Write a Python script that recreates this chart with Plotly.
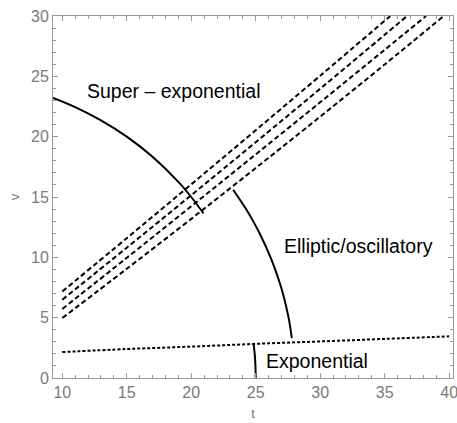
import plotly.graph_objects as go

# ---- data ----
# four dashed boundaries
dash1_t = [10, 15, 20, 25, 30, 35.44]
dash1_v = [7.17, 11.59, 16.05, 20.53, 25.05, 30.0]
dash2_t = [10, 15, 20, 25, 30, 35, 36.74]
dash2_v = [6.49, 10.80, 15.15, 19.54, 23.97, 28.44, 30.0]
dash3_t = [10, 15, 20, 25, 30, 35, 38.21]
dash3_v = [5.72, 9.96, 14.23, 18.53, 22.85, 27.20, 30.0]
dash4_t = [10, 15, 20, 25, 30, 35, 39.58]
dash4_v = [4.97, 9.05, 13.19, 17.40, 21.66, 25.98, 30.0]

# dotted boundary (exponential)
dot_t = [10, 15, 20, 25, 30, 35, 40]
dot_v = [2.15, 2.40, 2.60, 2.83, 3.03, 3.24, 3.45]

# solid boundaries
arc1_t = [9.28, 11, 13, 15, 17, 19, 20, 20.95]
arc1_v = [23.21, 22.45, 21.35, 20.0, 18.33, 16.25, 15.0, 13.64]
arc2_t = [23.25, 24.25, 24.8, 25.3, 26.15, 26.83, 27.11, 27.55, 27.8]
arc2_v = [15.6, 14.0, 13.0, 12.0, 10.0, 8.0, 7.0, 5.0, 3.3]
arc3_t = [24.83, 24.93, 24.98, 25.0]
arc3_v = [2.9, 1.9, 1.0, 0.0]

labels = ["Super \u2013 exponential", "Elliptic/oscillatory", "Exponential"]
label_t = [18.66, 33.0, 29.79]
label_v = [23.75, 10.98, 1.45]

x_range = [9.28, 40.3]
y_range = [0, 30]

FONT = "Liberation Sans, Arial, sans-serif"
GRAY = "#999999"
LABEL_GRAY = "#7a7a7a"

fig = go.Figure()

for tt, vv in [(dash1_t, dash1_v), (dash2_t, dash2_v), (dash3_t, dash3_v), (dash4_t, dash4_v)]:
    fig.add_trace(go.Scatter(x=tt, y=vv, mode="lines", line_shape="spline",
                             line=dict(color="black", width=2, dash="5px,3px"),
                             hoverinfo="skip", showlegend=False))

fig.add_trace(go.Scatter(x=dot_t, y=dot_v, mode="lines", line_shape="spline",
                         line=dict(color="black", width=2, dash="3px,2px"),
                         hoverinfo="skip", showlegend=False))

for tt, vv in [(arc1_t, arc1_v), (arc2_t, arc2_v), (arc3_t, arc3_v)]:
    fig.add_trace(go.Scatter(x=tt, y=vv, mode="lines", line_shape="spline",
                             line=dict(color="black", width=2),
                             hoverinfo="skip", showlegend=False))

for txt, tx, vy in zip(labels, label_t, label_v):
    fig.add_annotation(x=tx, y=vy, text=txt, showarrow=False,
                       font=dict(family=FONT, size=19.5, color="black"),
                       xanchor="center", yanchor="middle")

axis_common = dict(
    showline=True, linecolor=GRAY, linewidth=1, mirror="ticks",
    ticks="inside", ticklen=5, tickcolor=GRAY, tickwidth=1,
    showgrid=False, zeroline=False, automargin=False,
    ticklabeloverflow="allow",
    tickfont=dict(family=FONT, size=16, color=LABEL_GRAY),
    minor=dict(ticks="inside", ticklen=3, tickcolor=GRAY, dtick=1, tick0=0, showgrid=False),
    tick0=0, dtick=5,
)

fig.update_xaxes(range=x_range, title=dict(text="t", font=dict(family=FONT, size=13, color=LABEL_GRAY), standoff=8),
                 **axis_common)
fig.update_yaxes(range=y_range, title=dict(text="v", font=dict(family=FONT, size=13, color=LABEL_GRAY), standoff=8),
                 **axis_common)

fig.update_layout(
    width=457, height=423,
    margin=dict(l=53, r=4, t=16, b=45),
    plot_bgcolor="white", paper_bgcolor="white",
)

fig.write_html("out.html", config={"displayModeBar": False},
               post_script="document.body.style.margin='0';document.body.style.overflow='hidden';")
